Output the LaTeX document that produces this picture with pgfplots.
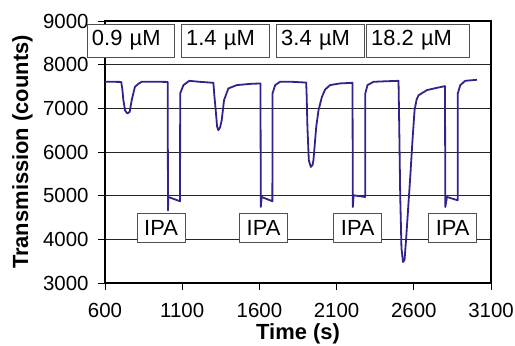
\documentclass[border=0pt]{standalone}
\usepackage{pgfplots}
\pgfplotsset{compat=1.18}
\usepackage{fontspec}
\setmainfont{Liberation Sans}
\definecolor{trace}{RGB}{48,36,140}
\definecolor{boxgray}{RGB}{80,80,80}
\begin{document}
\begin{tikzpicture}[x=1bp,y=1bp]
\path[use as bounding box] (-105,-62) rectangle (410,283);
\begin{axis}[
  at={(0,0)}, anchor=south west,
  scale only axis, width=386bp, height=262bp,
  xmin=600, xmax=3100, ymin=3000, ymax=9000,
  xtick={600,1100,...,3100}, ytick={3000,4000,...,9000},
  ymajorgrids, major grid style={black!85, line width=0.9bp},
  axis line style={black, line width=1.3bp},
  tick align=outside, major tick length=7bp,
  tick style={black, line width=0.9bp},
  tick pos=left,
  /pgf/number format/assume math mode=true,
  /pgf/number format/set thousands separator={},
  ticklabel style={font=\fontsize{20.5}{24}\selectfont},
  xticklabel style={yshift=-10bp},
  yticklabel style={xshift=-6bp},
  xlabel={Time (s)}, ylabel={Transmission (counts)},
  label style={font=\bfseries\fontsize{22}{26}\selectfont},
  xlabel style={at={(axis description cs:0.5,0)}, anchor=north, yshift=-37.5bp},
  ylabel style={at={(axis description cs:-0.2137,0.5)}, anchor=center, rotate=0},
  clip=false,
]
\addplot[trace, line width=1.8bp, line join=round] table {
t c
600 7610
705 7605
712 7450
719 7188
730 6950
745 6883
760 6920
773 7188
794 7493
816 7561
838 7608
900 7610
1006 7605
1008 4660
1010 4970
1086 4872
1087 7342
1108 7532
1146 7630
1211 7608
1302 7585
1308 7300
1317 6958
1326 6580
1334 6500
1345 6560
1356 6729
1371 7188
1399 7456
1454 7532
1540 7560
1607 7570
1609 4740
1615 4970
1684 4872
1685 7342
1702 7532
1734 7608
1800 7610
1903 7590
1906 7300
1911 6575
1920 5811
1933 5658
1944 5700
1950 5811
1968 6575
1983 6960
2005 7264
2026 7433
2058 7532
2120 7570
2203 7585
2205 4740
2210 5009
2285 4970
2286 7342
2300 7532
2339 7608
2420 7620
2501 7630
2506 6500
2512 5000
2520 3800
2530 3480
2540 3530
2550 4000
2565 4800
2577 5430
2592 6300
2605 6960
2618 7200
2631 7300
2685 7417
2750 7470
2802 7509
2804 4740
2815 4970
2884 4894
2885 7342
2901 7532
2933 7630
3009 7654
};
\begin{scope}[every node/.style={draw=boxgray, line width=0.9bp, fill=white,
    font=\fontsize{22}{26}\selectfont, inner xsep=5bp, inner ysep=0pt,
    minimum height=33bp, align=left, anchor=center}]
\node[text width=77bp] at (axis cs:765,8553) {0.9 µM};
\node[text width=78bp] at (axis cs:1378,8553) {1.4 µM};
\node[text width=78bp] at (axis cs:1994,8553) {3.4 µM};
\node[text width=93bp] at (axis cs:2625,8553) {18.2 µM};
\end{scope}
\begin{scope}[every node/.style={draw=boxgray, line width=0.9bp, fill=white,
    font=\fontsize{22}{26}\selectfont, inner xsep=0pt, inner ysep=0pt,
    minimum height=29bp, minimum width=48bp, anchor=center}]
\node at (axis cs:963,4263) {IPA};
\node at (axis cs:1627,4263) {IPA};
\node at (axis cs:2237,4263) {IPA};
\node at (axis cs:2852,4263) {IPA};
\end{scope}
\end{axis}
\end{tikzpicture}
\end{document}
